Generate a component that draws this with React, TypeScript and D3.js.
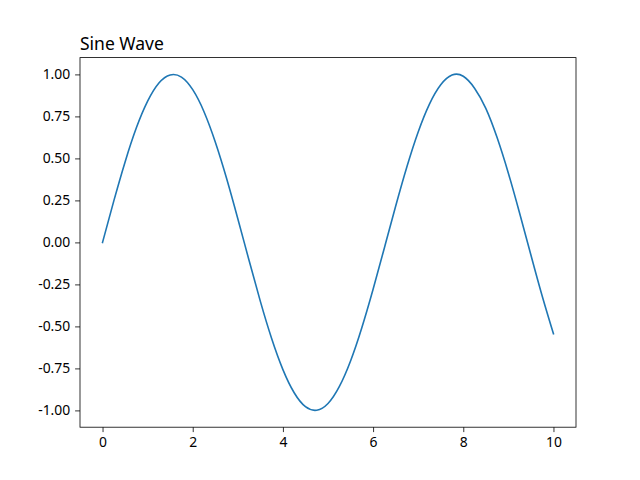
import * as d3 from "d3";
import { useEffect, useRef } from "react";

// points, every 0.25 along x
const xValues = [
  0, 0.25, 0.5, 0.75, 1, 1.25, 1.5, 1.75, 2, 2.25, 2.5, 2.75, 3, 3.25, 3.5,
  3.75, 4, 4.25, 4.5, 4.75, 5, 5.25, 5.5, 5.75, 6, 6.25, 6.5, 6.75, 7, 7.25,
  7.5, 7.75, 8, 8.25, 8.5, 8.75, 9, 9.25, 9.5, 9.75, 10,
];
const yValues = [
  0, 0.247, 0.479, 0.682, 0.841, 0.949, 0.997, 0.984, 0.909, 0.778, 0.598,
  0.382, 0.141, -0.108, -0.351, -0.572, -0.757, -0.895, -0.978, -0.999,
  -0.959, -0.859, -0.706, -0.508, -0.279, -0.033, 0.215, 0.45, 0.657, 0.823,
  0.938, 0.996, 0.989, 0.918, 0.798, 0.624, 0.412, 0.174, -0.075, -0.319,
  -0.544,
];
const xTicks = [0, 2, 4, 6, 8, 10];
const yTicks = [-1, -0.75, -0.5, -0.25, 0, 0.25, 0.5, 0.75, 1];
const title = "Sine Wave";

const width = 640;
const height = 480;
const margin = { top: 57.6, right: 64, bottom: 52.8, left: 80 };
const font = "'Noto Sans', 'Open Sans', sans-serif";

export default function App() {
  const ref = useRef<SVGSVGElement>(null);

  useEffect(() => {
    if (!ref.current) return;
    const svg = d3.select(ref.current);
    svg.selectAll("*").remove();

    const x = d3
      .scaleLinear()
      .domain([-0.5, 10.5])
      .range([margin.left, width - margin.right]);
    const y = d3
      .scaleLinear()
      .domain([-1.1, 1.1])
      .range([height - margin.bottom, margin.top]);

    const points = xValues.map((v, i) => [v, yValues[i]] as [number, number]);

    const line = d3
      .line<[number, number]>()
      .x((d) => x(d[0]))
      .y((d) => y(d[1]))
      .curve(d3.curveNatural);

    svg
      .append("path")
      .datum(points)
      .attr("fill", "none")
      .attr("stroke", "#1f77b4")
      .attr("stroke-width", 1.6)
      .attr("stroke-linecap", "square")
      .attr("d", line);

    const gx = svg
      .append("g")
      .attr("transform", `translate(0,${height - margin.bottom})`)
      .call(
        d3
          .axisBottom(x)
          .tickValues(xTicks)
          .tickFormat(d3.format("d"))
          .tickSize(4.9)
          .tickPadding(4.9),
      );
    const gy = svg
      .append("g")
      .attr("transform", `translate(${margin.left},0)`)
      .call(
        d3
          .axisLeft(y)
          .tickValues(yTicks)
          .tickFormat((d) => d3.format(".2f")(d as number).replace("−", "-"))
          .tickSize(4.9)
          .tickPadding(4.9),
      );

    for (const g of [gx, gy]) {
      g.select(".domain").remove();
      g.selectAll("line").attr("stroke", "#000").attr("stroke-width", 0.8);
      g.selectAll("text")
        .attr("fill", "#000")
        .style("font-family", font)
        .style("font-size", "13.9px");
    }

    // axes frame
    svg
      .append("rect")
      .attr("x", margin.left)
      .attr("y", margin.top)
      .attr("width", width - margin.left - margin.right)
      .attr("height", height - margin.top - margin.bottom)
      .attr("fill", "none")
      .attr("stroke", "#000")
      .attr("stroke-width", 0.8);

    svg
      .append("text")
      .attr("x", margin.left)
      .attr("y", margin.top - 8)
      .attr("fill", "#000")
      .style("font-family", font)
      .style("font-size", "17.5px")
      .text(title);
  }, []);

  return (
    <svg
      ref={ref}
      width={width}
      height={height}
      style={{ position: "absolute", left: 0, top: 0, background: "#fff" }}
    />
  );
}
